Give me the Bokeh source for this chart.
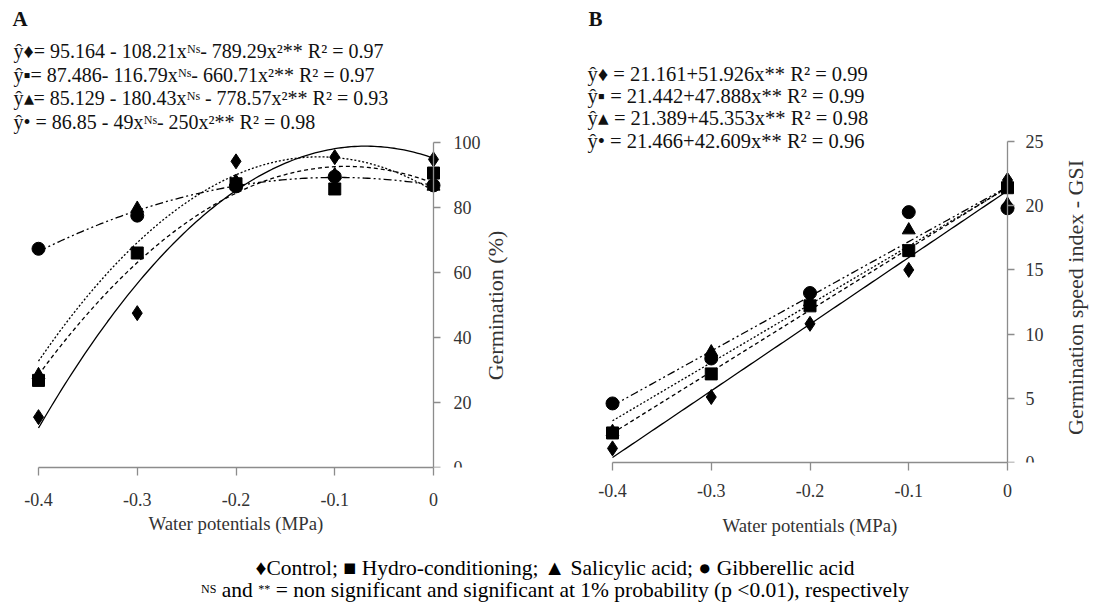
import math
import numpy as np
from bokeh.plotting import figure
from bokeh.models import Label, FixedTicker, Range1d, Div, Title
from bokeh.layouts import row, column
from bokeh.embed import file_html
from bokeh.resources import INLINE

try:
    from bokeh.models import GlobalInlineStyleSheet
    page_css = [GlobalInlineStyleSheet(css="html, body { overflow: hidden !important; }")]
except Exception:
    page_css = []

# ---------------- data ----------------
water_potential = [-0.4, -0.3, -0.2, -0.1, 0.0]
x_tick_labels = ["-0.4", "-0.3", "-0.2", "-0.1", "0"]
series_names = ["Control", "Hydro-conditioning", "Salicylic acid", "Gibberellic acid"]

germ_control = [15.5, 47.5, 94.2, 95.5, 94.8]
germ_hydro = [26.8, 66.0, 87.3, 85.7, 90.6]
germ_salicylic = [28.5, 79.7, 88.0, 90.0, 86.5]
germ_gibberellic = [67.3, 77.5, 86.5, 89.5, 86.8]

gsi_control = [1.1, 5.1, 10.8, 15.0, 22.0]
gsi_hydro = [2.3, 6.9, 12.2, 16.5, 21.4]
gsi_salicylic = [2.4, 8.6, 12.5, 18.1, 20.1]
gsi_gibberellic = [4.6, 8.1, 13.2, 19.5, 19.8]

# regression coefficients printed on the chart: y = b0 + b1*x + b2*x^2
germ_b0 = [95.164, 87.486, 85.129, 86.85]
germ_b1 = [-108.21, -116.79, -180.43, -49.0]
germ_b2 = [-789.29, -660.71, -778.57, -250.0]
gsi_b0 = [21.161, 21.442, 21.389, 21.466]
gsi_b1 = [51.926, 47.888, 45.353, 42.609]

germ_ticks = [0, 20, 40, 60, 80, 100]
gsi_ticks = [0, 5, 10, 15, 20, 25]

x_title = "Water potentials (MPa)"
y_title_A = "Germination (%)"
y_title_B = "Germination speed index - GSI"

eq_A = [
    "ŷ♦= 95.164 - 108.21xᴺˢ- 789.29x²** R² = 0.97",
    "ŷ▪= 87.486- 116.79xᴺˢ-  660.71x²** R² = 0.97",
    "ŷ▴= 85.129 - 180.43xᴺˢ - 778.57x²** R² = 0.93",
    "ŷ• = 86.85 - 49xᴺˢ- 250x²** R² = 0.98",
]
eq_B = [
    " ŷ♦ = 21.161+51.926x** R² = 0.99",
    "ŷ▪ = 21.442+47.888x** R² = 0.99",
    "ŷ▴ = 21.389+45.353x** R² = 0.98",
    "ŷ•  = 21.466+42.609x** R² = 0.96",
]

# ---------------- style / layout ----------------
FONT = "Liberation Serif"
AXIS_GRAY = "#8c8c8c"
TEXT_GRAY = "#333333"
markers = ["diamond", "square", "triangle", "circle"]
msizes = [15, 12, 13, 13]
dashes = ["solid", "4 3", "2 2", "8 3 2 3 2 3"]
draw_order = [2, 3, 1, 0]

PX_PER_X = 987.5
ROW_BOTTOM = 552


class PanelGeom:
    """Maps reference-page pixel positions to data values for one panel."""
    def __init__(self, frame_left, frame_w, x_m04, y_top_val, y_top_px, y_zero_px):
        self.frame_left = frame_left
        self.frame_w = frame_w
        self.x_start = -0.4 - (x_m04 - frame_left) / PX_PER_X
        self.x_end = self.x_start + frame_w / PX_PER_X
        self.px_per_y = (y_zero_px - y_top_px) / y_top_val
        self.frame_h = int(round(y_zero_px))
        self.y_end = y_top_val + y_top_px / self.px_per_y
        self.y_top_val = y_top_val
        self.y_top_px = y_top_px

    def dx(self, px):
        return self.x_start + (px - self.frame_left) / PX_PER_X

    def dy(self, py):
        return self.y_top_val + (self.y_top_px - py) / self.px_per_y


def make_panel(g, bottom_border, right_border, y_ticks, x_std, title_left_px, title_std, y_std):
    p = figure(
        output_backend="svg", toolbar_location=None,
        frame_width=g.frame_w, frame_height=g.frame_h,
        min_border_left=0, min_border_right=right_border,
        min_border_top=0, min_border_bottom=bottom_border,
        x_range=Range1d(g.x_start, g.x_end), y_range=Range1d(0, g.y_end),
        y_axis_location="right",
    )
    p.outline_line_color = None
    p.grid.visible = False
    p.background_fill_color = "white"
    p.border_fill_color = "white"

    for ax in p.xaxis:
        ax.ticker = FixedTicker(ticks=water_potential)
        ax.major_label_overrides = dict(zip(water_potential, x_tick_labels))
        ax.bounds = (water_potential[0], water_potential[-1])
        ax.axis_line_color = AXIS_GRAY
        ax.axis_line_width = 1.3
        ax.major_tick_line_color = AXIS_GRAY
        ax.major_tick_line_width = 1.3
        ax.major_tick_out = 8
        ax.major_tick_in = 0
        ax.minor_tick_line_color = None
        ax.major_label_text_font = FONT
        ax.major_label_text_font_size = "18px"
        ax.major_label_text_color = TEXT_GRAY
        ax.major_label_standoff = x_std

    # x-axis title, positioned under the -0.4..0 span of the axis
    p.add_layout(Title(text=x_title, align="left", offset=title_left_px - g.frame_left,
                       standoff=title_std, text_font=FONT, text_font_size="18.8px",
                       text_font_style="normal", text_color=TEXT_GRAY), "below")

    for ax in p.yaxis:
        ax.fixed_location = 0
        ax.ticker = FixedTicker(ticks=y_ticks)
        ax.bounds = (0, g.y_top_val)
        ax.axis_line_color = AXIS_GRAY
        ax.axis_line_width = 1.3
        ax.major_tick_line_color = AXIS_GRAY
        ax.major_tick_line_width = 1.3
        ax.major_tick_out = 7
        ax.major_tick_in = 0
        ax.minor_tick_line_color = None
        ax.major_label_text_font = FONT
        ax.major_label_text_font_size = "18px"
        ax.major_label_text_color = TEXT_GRAY
        ax.major_label_standoff = y_std
    return p


def add_text(p, x, y, txt, size="20px", bold=False, angle=0.0, align="left",
             color="#111111"):
    p.add_layout(Label(x=x, y=y, text=txt, text_font=FONT, text_font_size=size,
                       text_font_style="bold" if bold else "normal",
                       text_align=align, angle=angle,
                       text_baseline="middle", text_color=color))


xs = np.linspace(water_potential[0], water_potential[-1], 121)

# ---------------- panel A ----------------
gA = PanelGeom(frame_left=0, frame_w=512, x_m04=38, y_top_val=100, y_top_px=142, y_zero_px=467)
pA = make_panel(gA, ROW_BOTTOM - 467, 70, germ_ticks, 17, 148, 4, 13)
germ_series = [germ_control, germ_hydro, germ_salicylic, germ_gibberellic]
for i in range(4):
    ys = germ_b0[i] + germ_b1[i] * xs + germ_b2[i] * xs ** 2
    pA.line(xs, ys, line_color="black", line_width=1.3, line_dash=dashes[i])
for i in draw_order:
    pA.scatter(water_potential, germ_series[i], marker=markers[i], size=msizes[i],
               fill_color="black", line_color="black")
add_text(pA, gA.dx(12), gA.dy(18), "A", size="21px", bold=True)
for txt, yy in zip(eq_A, [50, 74, 97, 121]):
    add_text(pA, gA.dx(13), gA.dy(yy), txt, size="20px")
add_text(pA, gA.dx(495), gA.dy(305), y_title_A, size="22px",
         angle=math.pi / 2, align="center", color=TEXT_GRAY)

# ---------------- panel B ----------------
gB = PanelGeom(frame_left=582, frame_w=508, x_m04=612, y_top_val=25, y_top_px=141, y_zero_px=462)
pB = make_panel(gB, ROW_BOTTOM - 462, 40, gsi_ticks, 13, 722, 26, 11)
gsi_series = [gsi_control, gsi_hydro, gsi_salicylic, gsi_gibberellic]
for i in range(4):
    ys = gsi_b0[i] + gsi_b1[i] * xs
    pB.line(xs, ys, line_color="black", line_width=1.3, line_dash=dashes[i])
for i in draw_order:
    pB.scatter(water_potential, gsi_series[i], marker=markers[i], size=msizes[i],
               fill_color="black", line_color="black")
add_text(pB, gB.dx(588), gB.dy(18), "B", size="21px", bold=True)
for txt, yy in zip(eq_B, [73, 95, 117, 140]):
    add_text(pB, gB.dx(587), gB.dy(yy), txt, size="20.5px")
add_text(pB, gB.dx(1075), gB.dy(297), y_title_B, size="22px",
         angle=math.pi / 2, align="center", color=TEXT_GRAY)

# ---------------- footnote ----------------
legend_line = "♦Control; ■ Hydro-conditioning; ▲ Salicylic acid; ● Gibberellic acid"
sup = "<span style=\"font-size:12px;vertical-align:4px;line-height:0;\">{}</span>"
note_line = (sup.format("NS") + " and " + sup.format("**") +
             " = non significant and significant at 1% probability (p &lt;0.01), respectively")
foot = Div(
    text=(
        "<div style=\"width:1110px;text-align:center;font-family:'Liberation Serif';"
        "font-size:21.5px;line-height:22px;padding-top:5px;color:#000;\">"
        + legend_line + "<br>" + note_line + "</div>"
    ),
    width=1110, height=49, margin=(0, 0, 0, 0),
)

layout = column(row(pA, pB), foot, stylesheets=page_css)
open("out.html", "w").write(file_html(layout, INLINE))
